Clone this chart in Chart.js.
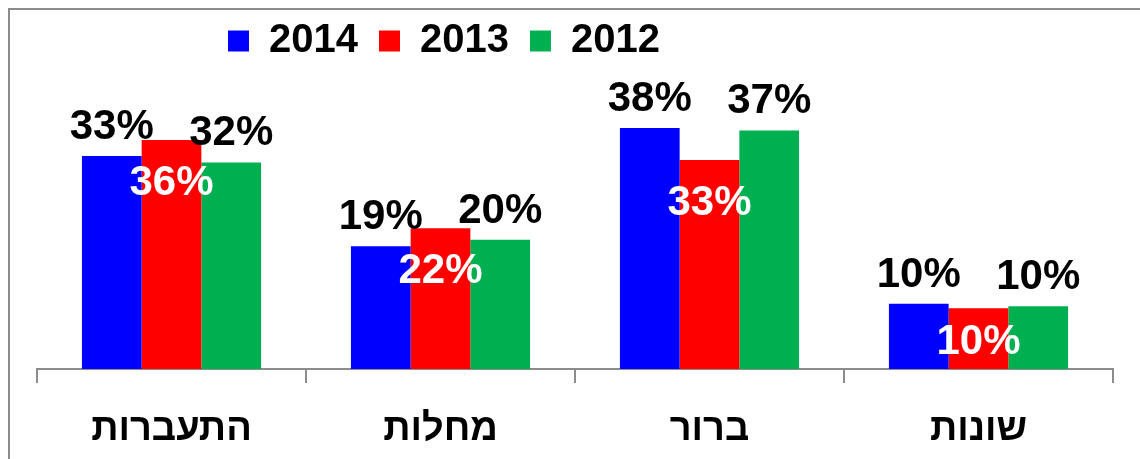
<!DOCTYPE html>
<html>
<head>
<meta charset="utf-8">
<script src="https://cdn.jsdelivr.net/npm/chart.js@4.4.1/dist/chart.umd.min.js"></script>
<style>
  html, body { margin: 0; padding: 0; background: #ffffff; }
  #wrap { position: relative; width: 1140px; height: 459px; }
</style>
</head>
<body>
<div id="wrap"><canvas id="c"></canvas></div>
<script>
const categories = ['התעברות', 'מחלות', 'ברור', 'שונות'];
const seriesNames = ['2014', '2013', '2012'];
const values2014 = [33.3, 19.2, 37.7, 10.2];
const values2013 = [35.8, 22.0, 32.7, 9.5];
const values2012 = [32.3, 20.2, 37.3, 9.8];
const seriesColors = ['#0000FF', '#FF0000', '#00B050'];

const FONT = '"Liberation Sans", Arial, sans-serif';

const frame = {
  id: 'frame',
  beforeDraw(chart) {
    const ctx = chart.ctx;
    ctx.save();
    ctx.strokeStyle = '#8c8c8c';
    ctx.lineWidth = 2;
    ctx.beginPath();
    ctx.moveTo(9, chart.height + 5);
    ctx.lineTo(9, 9);
    ctx.lineTo(chart.width + 5, 9);
    ctx.stroke();
    ctx.restore();
  }
};

const legendShift = {
  id: 'legendShift',
  afterLayout(chart) {
    if (chart.legend) {
      const w = chart.legend.width;
      chart.legend.left = 207;
      chart.legend.right = 207 + w;
    }
  }
};

const valueLabels = {
  id: 'valueLabels',
  afterDatasetsDraw(chart) {
    const ctx = chart.ctx;
    ctx.save();
    ctx.font = 'bold 42px ' + FONT;
    ctx.textAlign = 'center';
    ctx.textBaseline = 'alphabetic';
    chart.data.datasets.forEach((ds, di) => {
      const meta = chart.getDatasetMeta(di);
      meta.data.forEach((bar, i) => {
        const txt = Math.round(ds.data[i]) + '%';
        if (di === 1) {
          const mid = (bar.y + bar.base) / 2 + 15;
          const y = Math.min(bar.y + 55, mid);
          ctx.fillStyle = '#ffffff';
          ctx.fillText(txt, bar.x, y);
        } else {
          ctx.fillStyle = '#000000';
          ctx.fillText(txt, bar.x, bar.y - 17);
        }
      });
    });
    ctx.restore();
  }
};

new Chart(document.getElementById('c'), {
  type: 'bar',
  data: {
    labels: categories,
    datasets: [
      { label: seriesNames[0], data: values2014, backgroundColor: seriesColors[0] },
      { label: seriesNames[1], data: values2013, backgroundColor: seriesColors[1] },
      { label: seriesNames[2], data: values2012, backgroundColor: seriesColors[2] }
    ]
  },
  options: {
    responsive: true,
    maintainAspectRatio: false,
    animation: false,
    devicePixelRatio: 1,
    layout: { padding: { left: 37, right: 27, top: 0, bottom: 0 } },
    datasets: { bar: { barPercentage: 1.0, categoryPercentage: 0.666 } },
    plugins: {
      legend: {
        position: 'top',
        align: 'start',
        labels: {
          boxWidth: 21,
          boxHeight: 21,
          padding: 21,
          color: '#000000',
          font: { family: FONT, size: 40, weight: 'bold' }
        }
      },
      tooltip: { enabled: false }
    },
    scales: {
      x: {
        afterFit(scale) { scale.height = 90; },
        grid: { display: true, drawOnChartArea: false, drawTicks: true, tickLength: 14, color: '#8c8c8c', lineWidth: 2 },
        border: { display: true, color: '#8c8c8c', width: 2 },
        ticks: { color: '#000000', padding: 24, font: { family: FONT, size: 38, weight: 'bold' } }
      },
      y: {
        display: false,
        min: 0,
        max: 46.6
      }
    }
  },
  plugins: [frame, legendShift, valueLabels]
});
</script>
</body>
</html>
